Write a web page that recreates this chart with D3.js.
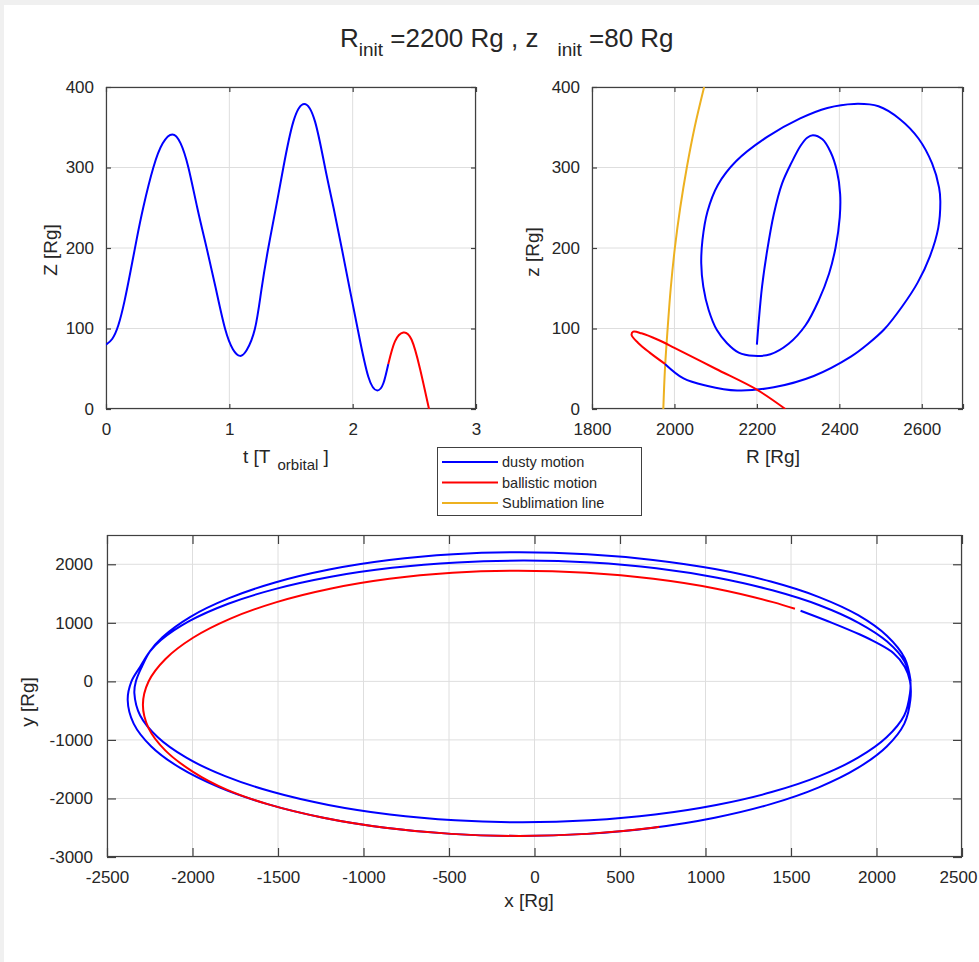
<!DOCTYPE html>
<html><head><meta charset="utf-8">
<script src="https://cdn.jsdelivr.net/npm/d3@7"></script>
<style>
html,body{margin:0;padding:0;background:#f0f0f0;}
svg{display:block;}
text{font-family:"Liberation Sans",Arial,sans-serif;fill:#262626;}
</style></head><body>
<svg id="chart" width="979" height="962"></svg>
<script>
// ---------- data ----------
const tDusty = [0, 0.05, 0.1, 0.15, 0.2, 0.25, 0.303, 0.384, 0.46, 0.538, 0.605, 0.668, 0.74, 0.816, 0.89, 0.965, 1.03, 1.086, 1.14, 1.208, 1.26, 1.316, 1.38, 1.438, 1.519, 1.608, 1.695, 1.776, 1.845, 1.911, 1.975, 2.04, 2.127, 2.2, 2.249, 2.289];
const zDusty = [80, 87, 104, 134, 172, 212, 251, 300, 330, 341, 330, 300, 250, 200, 150, 100, 74, 66, 73, 100, 148, 200, 252, 300, 357, 379, 357, 300, 250, 200, 150, 100, 40, 23, 32, 56];
const tBallistic = [2.289, 2.343, 2.411, 2.478, 2.546, 2.619];
const zBallistic = [56, 84, 95, 86, 50, 0];

const rDusty  = [2200, 2204, 2212.5, 2225, 2241, 2261, 2284, 2306, 2322, 2336, 2359, 2379, 2394, 2402, 2401, 2391, 2375, 2350, 2318, 2277, 2233, 2192, 2156, 2127, 2103, 2083, 2070, 2065, 2068, 2080, 2105, 2150, 2225, 2305, 2371, 2436, 2495, 2547, 2592, 2625, 2642, 2645, 2640, 2620, 2590, 2552, 2509, 2470, 2428, 2338, 2241, 2152, 2078, 2022, 1977];
const rzDusty = [80, 106, 152, 197, 242, 280, 306, 327, 337, 340, 335, 319, 296, 267, 238, 201, 168, 135, 104, 81, 68, 66, 70, 82, 98, 123, 152, 181, 210, 245, 278, 308, 338, 361, 374, 379, 376, 360, 336, 305, 275, 258, 225, 190, 157, 127, 99, 81, 65, 41, 27, 23, 29, 38, 56];
const rBallistic  = [1977, 1940, 1912, 1896, 1900, 1920, 1960, 2000, 2100, 2200, 2269];
const rzBallistic = [56, 70, 82, 92, 96, 94, 86, 76, 50, 24, 0];
const rSublimation = [1973, 1977, 1983.5, 1991, 2001, 2014, 2030, 2049, 2072];
const zSublimation = [0, 50, 100, 150, 200, 250, 300, 350, 400];

const xDusty = [2200, 2165, 2062, 1893, 1664, 1382, 1055, 693, 308, -90, -475, -849, -1200, -1517, -1790, -2012, -2176, -2250, -2296, -2331, -2340,
                -2306, -2203, -2036, -1809, -1529, -1205, -846, -464, -70, 323, 705, 1063, 1387, 1666, 1892, 2059, 2162, 2196,
                2198, 2164, 2062, 1895, 1670, 1391, 1069, 712, 332, -60, -452, -833, -1190, -1513, -1791, -2017, -2184, -2250, -2306, -2357, -2379,
                -2344, -2241, -2072, -1843, -1561, -1235, -873, -487, -90, 307, 693, 1054, 1381, 1663, 1891, 2060, 2163, 2198,
                2196, 2165, 2100, 2000, 1903, 1740, 1556];
const yDusty = [0, 395, 775, 1130, 1440, 1705, 1918, 2074, 2171, 2205, 2171, 2072, 1910, 1689, 1417, 1103, 754, 507, 250, 0, -200,
                -583, -955, -1304, -1619, -1891, -2111, -2274, -2373, -2407, -2373, -2274, -2111, -1891, -1619, -1304, -955, -583, -200,
                0, 340, 680, 1000, 1296, 1555, 1770, 1932, 2030, 2063, 2032, 1939, 1787, 1580, 1326, 1032, 706, 507, 250, 0, -318,
                -721, -1112, -1479, -1810, -2097, -2329, -2500, -2605, -2640, -2605, -2500, -2329, -2097, -1810, -1479, -1112, -721, -318,
                0, 250, 480, 660, 800, 1000, 1207];
const xBallistic = [1523, 1394, 1063, 695, 304, -100, -480, -849, -1195, -1508, -1778, -1997, -2158, -2257, -2290, -2257, -2158, -1997, -1800, -1561, -1235, -873, -487, -90, 307, 693, 730];
const yBallistic = [1240, 1354, 1583, 1752, 1855, 1890, 1855, 1752, 1583, 1354, 1072, 745, 383, -2, -400, -798, -1183, -1545, -1850, -2097, -2329, -2500, -2605, -2640, -2605, -2500, -2483];

const tTicks = [0, 1, 2, 3];
const zTicks = [0, 100, 200, 300, 400];
const rTicks = [1800, 2000, 2200, 2400, 2600, 2700];
const rTickLabels = [1800, 2000, 2200, 2400, 2600];
const xTicks = [-2500, -2000, -1500, -1000, -500, 0, 500, 1000, 1500, 2000, 2500];
const yTicks = [-3000, -2000, -1000, 0, 1000, 2000];

const seriesNames = ["dusty motion", "ballistic motion", "Sublimation line"];
const seriesColors = ["#0000ff", "#ff0000", "#edb120"];

// ---------- drawing ----------
const svg = d3.select("#chart");
svg.append("rect").attr("width", 979).attr("height", 962).attr("fill", "#f0f0f0");
svg.append("rect").attr("x", 4).attr("y", 5).attr("width", 975).attr("height", 957).attr("fill", "#ffffff");

const AX = "#404040", GRID = "#dedede";

function panel(id, xs, ys, xT, yT, xLab, tickLen, xPad, yPad) {
  const g = svg.append("g");
  const [xa, xb] = xs.range(), [yb, ya] = ys.range();
  g.append("clipPath").attr("id", id).append("rect")
    .attr("x", xa).attr("y", ya).attr("width", xb - xa).attr("height", yb - ya);
  g.append("g").selectAll("line").data(xT).join("line")
    .attr("x1", d => xs(d)).attr("x2", d => xs(d)).attr("y1", ya).attr("y2", yb)
    .attr("stroke", GRID).attr("stroke-width", 1);
  g.append("g").selectAll("line").data(yT).join("line")
    .attr("y1", d => ys(d)).attr("y2", d => ys(d)).attr("x1", xa).attr("x2", xb)
    .attr("stroke", GRID).attr("stroke-width", 1);
  const fmt = d => (xLab.includes(d) ? String(d) : "");
  const bx = g.append("g").attr("transform", `translate(0,${yb})`)
    .call(d3.axisBottom(xs).tickValues(xT).tickSize(-tickLen).tickPadding(xPad).tickFormat(fmt));
  const tx = g.append("g").attr("transform", `translate(0,${ya})`)
    .call(d3.axisTop(xs).tickValues(xT).tickSize(-tickLen).tickFormat(""));
  const ly = g.append("g").attr("transform", `translate(${xa},0)`)
    .call(d3.axisLeft(ys).tickValues(yT).tickSize(-tickLen).tickPadding(yPad).tickFormat(d => String(d)));
  const ry = g.append("g").attr("transform", `translate(${xb},0)`)
    .call(d3.axisRight(ys).tickValues(yT).tickSize(-tickLen).tickFormat(""));
  [bx, tx, ly, ry].forEach(a => {
    a.select(".domain").remove();
    a.selectAll(".tick line").attr("stroke", AX).attr("stroke-width", 1.2);
    a.selectAll(".tick text").attr("font-family", "'Liberation Sans',Arial,sans-serif")
      .attr("font-size", 17).attr("fill", "#262626");
  });
  g.append("rect").attr("x", xa + 0.5).attr("y", ya + 0.5).attr("width", xb - xa - 1).attr("height", yb - ya - 1)
    .attr("fill", "none").attr("stroke", AX).attr("stroke-width", 1.2);
  return { g, bx };
}

function drawLine(g, id, xs, ys, X, Y, color, curve) {
  const line = d3.line().x(d => xs(d[0])).y(d => ys(d[1])).curve(curve);
  g.append("path").attr("clip-path", `url(#${id})`).datum(d3.zip(X, Y))
    .attr("d", line).attr("fill", "none").attr("stroke", color)
    .attr("stroke-width", 2).attr("stroke-linejoin", "round").attr("stroke-linecap", "butt");
}
const smooth = d3.curveCatmullRom.alpha(0.5);

// panel 1: Z vs t
const x1 = d3.scaleLinear().domain([0, 3]).range([106, 476]);
const y1 = d3.scaleLinear().domain([0, 400]).range([409, 87]);
const p1 = panel("c1", x1, y1, tTicks, zTicks, tTicks, 5, 14, 12);
drawLine(p1.g, "c1", x1, y1, tDusty, zDusty, seriesColors[0], d3.curveNatural);
drawLine(p1.g, "c1", x1, y1, tBallistic, zBallistic, seriesColors[1], d3.curveNatural);

// panel 2: z vs R
const x2 = d3.scaleLinear().domain([1800, 2700]).range([592, 963]);
const y2 = d3.scaleLinear().domain([0, 400]).range([409, 87]);
const p2 = panel("c2", x2, y2, rTicks, zTicks, rTickLabels, 5, 14, 12);
drawLine(p2.g, "c2", x2, y2, rSublimation, zSublimation, seriesColors[2], smooth);
drawLine(p2.g, "c2", x2, y2, rDusty, rzDusty, seriesColors[0], smooth);
drawLine(p2.g, "c2", x2, y2, rBallistic, rzBallistic, seriesColors[1], smooth);

// panel 3: y vs x
const x3 = d3.scaleLinear().domain([-2500, 2500]).range([107, 962]);
const y3 = d3.scaleLinear().domain([-3000, 2500]).range([857, 535]);
const p3 = panel("c3", x3, y3, xTicks, yTicks, xTicks, 9, 14, 14);
p3.bx.selectAll(".tick text").filter(d => d === 2500).attr("dx", -4);
drawLine(p3.g, "c3", x3, y3, xDusty, yDusty, seriesColors[0], smooth);
drawLine(p3.g, "c3", x3, y3, xBallistic, yBallistic, seriesColors[1], smooth);

// title
const title = svg.append("text").attr("x", 340).attr("y", 47).attr("font-size", 26);
title.append("tspan").text("R");
title.append("tspan").attr("font-size", 19).attr("dy", 9).text("init");
title.append("tspan").attr("dy", -9).text(" =2200 Rg , z");
title.append("tspan").attr("font-size", 19).attr("dx", 19).attr("dy", 9).text("init");
title.append("tspan").attr("dy", -9).text(" =80 Rg");

// axis labels
const lab = (x, y, rot) => svg.append("text").attr("font-size", 19)
  .attr("transform", rot ? `translate(${x},${y}) rotate(-90)` : `translate(${x},${y})`)
  .attr("text-anchor", "middle");
const tl = svg.append("text").attr("x", 243).attr("y", 463).attr("font-size", 19);
tl.append("tspan").text("t [T");
tl.append("tspan").attr("font-size", 15).attr("dx", 7).attr("dy", 7).text("orbital");
tl.append("tspan").attr("dy", -7).text(" ]");
lab(773, 463).text("R [Rg]");
lab(529, 907).text("x [Rg]");
lab(57, 250, true).text("Z [Rg]");
lab(539, 252, true).text("z [Rg]");
lab(34, 702, true).text("y [Rg]");

// legend
const lg = svg.append("g");
lg.append("rect").attr("x", 437.5).attr("y", 447.5).attr("width", 204).attr("height", 68)
  .attr("fill", "#fff").attr("stroke", AX).attr("stroke-width", 1);
const ly0 = [462, 482.5, 503];
seriesNames.forEach((n, i) => {
  lg.append("line").attr("x1", 442).attr("x2", 498).attr("y1", ly0[i]).attr("y2", ly0[i])
    .attr("stroke", seriesColors[i]).attr("stroke-width", 2);
  lg.append("text").attr("x", 502).attr("y", ly0[i] + 5).attr("font-size", 14.5)
    .attr("font-family", "'DejaVu Sans',Verdana,sans-serif").text(n);
});
</script>
</body></html>
